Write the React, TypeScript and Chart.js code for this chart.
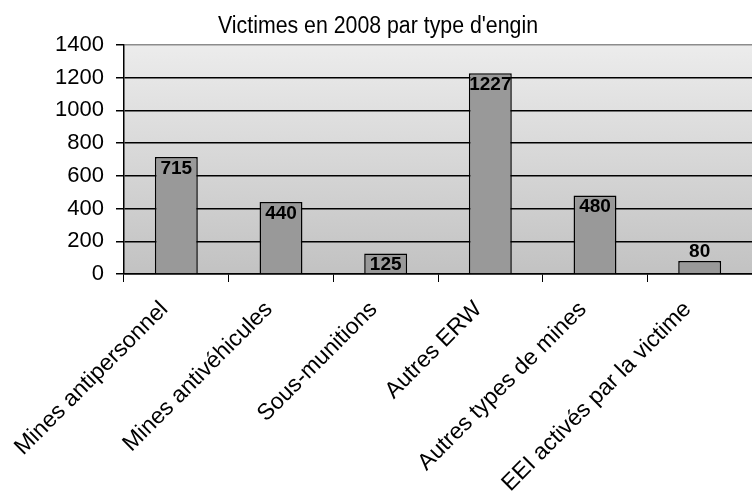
import React, { useEffect, useRef } from 'react';
import { Chart, registerables } from 'chart.js';

Chart.register(...registerables);

const TITLE = "Victimes en 2008 par type d'engin";
const CATEGORIES = [
  'Mines antipersonnel',
  'Mines antivéhicules',
  'Sous-munitions',
  'Autres ERW',
  'Autres types de mines',
  'EEI activés par la victime',
];
const VICTIMS = [715, 440, 125, 1227, 480, 80];
const Y_MIN = 0;
const Y_MAX = 1400;
const Y_STEP = 200;

const FONT = '"Liberation Sans", Arial, sans-serif';
const NARROW = '"Liberation Sans Narrow", "Arial Narrow", "Liberation Sans", sans-serif';

const bgPlugin = {
  id: 'plotBg',
  beforeDraw(chart: any) {
    const { ctx, chartArea } = chart;
    if (!chartArea) return;
    const g = ctx.createLinearGradient(0, chartArea.top, 0, chartArea.bottom);
    g.addColorStop(0, '#ececec');
    g.addColorStop(1, '#c2c2c2');
    ctx.save();
    ctx.fillStyle = g;
    ctx.fillRect(chartArea.left, chartArea.top, chartArea.right - chartArea.left, chartArea.bottom - chartArea.top);
    ctx.restore();
  },
};

const titlePlugin = {
  id: 'customTitle',
  afterDraw(chart: any) {
    const { ctx } = chart;
    ctx.save();
    ctx.font = '23px ' + NARROW;
    ctx.fillStyle = '#000';
    ctx.textAlign = 'center';
    ctx.textBaseline = 'alphabetic';
    const w = ctx.measureText(TITLE).width;
    const sx = Math.min(1, 320 / w);
    ctx.translate(378, 33);
    ctx.scale(sx, 1);
    ctx.fillText(TITLE, 0, 0);
    ctx.restore();
  },
};

const labelPlugin = {
  id: 'barLabels',
  afterDatasetsDraw(chart: any) {
    const { ctx } = chart;
    const meta = chart.getDatasetMeta(0);
    ctx.save();
    ctx.font = 'bold 19px ' + FONT;
    ctx.fillStyle = '#000';
    ctx.textAlign = 'center';
    meta.data.forEach((bar: any, i: number) => {
      const { x, y, base } = bar.getProps(['x', 'y', 'base'], true);
      const h = base - y;
      const txt = String(VICTIMS[i]);
      if (h >= 18) {
        ctx.textBaseline = 'top';
        ctx.fillText(txt, x, y + 2);
      } else {
        ctx.textBaseline = 'alphabetic';
        ctx.fillText(txt, x, y - 4);
      }
    });
    ctx.restore();
  },
};

export default function App() {
  const ref = useRef<HTMLCanvasElement | null>(null);

  useEffect(() => {
    document.body.style.margin = '0';
    if (!ref.current) return;
    const chart = new Chart(ref.current, {
      type: 'bar',
      data: {
        labels: CATEGORIES,
        datasets: [
          {
            data: VICTIMS,
            backgroundColor: '#999999',
            borderColor: '#000000',
            borderWidth: 1.5,
            barPercentage: 0.41,
            categoryPercentage: 1,
          },
        ],
      },
      options: {
        animation: false,
        responsive: true,
        maintainAspectRatio: false,
        layout: { padding: { top: 45, right: 0, left: 0, bottom: 0 } },
        plugins: {
          legend: { display: false },
          title: { display: false },
          tooltip: { enabled: false },
        },
        scales: {
          x: {
            grid: {
              display: true,
              drawOnChartArea: false,
              drawTicks: true,
              tickLength: 8,
              color: '#000',
              tickColor: '#000',
              offset: true,
            },
            border: { display: true, color: '#000', width: 1.5 },
            ticks: {
              color: '#000',
              font: { size: 23, family: FONT },
              minRotation: 45,
              maxRotation: 45,
              autoSkip: false,
              padding: 14,
              labelOffset: -12,
            },
            afterFit: (s: any) => {
              s.height = 220;
            },
          },
          y: {
            min: Y_MIN,
            max: Y_MAX,
            grid: {
              color: (c: any) => (c.tick && c.tick.value === Y_MAX ? '#8c8c8c' : '#000'),
              tickColor: '#000',
              tickLength: 8,
              lineWidth: 1.5,
            },
            border: { display: true, color: '#000', width: 1.5 },
            ticks: {
              stepSize: Y_STEP,
              color: '#000',
              font: { size: 22, family: FONT },
              padding: 12,
              callback: (v: any) => String(v),
            },
            afterFit: (s: any) => {
              s.width = 124;
            },
          },
        },
      },
      plugins: [bgPlugin, titlePlugin, labelPlugin],
    });
    return () => chart.destroy();
  }, []);

  return (
    <div style={{ position: 'relative', width: 752, height: 494 }}>
      <canvas ref={ref} />
    </div>
  );
}
